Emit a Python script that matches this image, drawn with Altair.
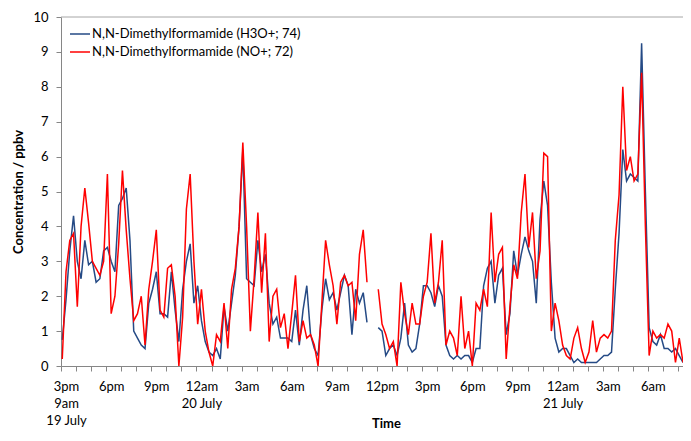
import altair as alt
import pandas as pd

SERIES = ["N,N-Dimethylformamide (H3O+; 74)", "N,N-Dimethylformamide (NO+; 72)"]
COLORS = ["#254A85", "#FF0000"]

# time axis: hours relative to 00:00 on 20 July, one reading every 15 minutes
START_H = -9.25   # 14:45 on 19 July
STEP_H = 0.25

# concentrations (ppbv), four readings per row (one hour)
H3O = [
    0.75, 1.9, 3.3, 4.3,
    3.0, 2.5, 3.6, 2.9,
    3.0, 2.4, 2.5, 3.3,
    3.4, 3.0, 2.7, 4.6,
    4.8, 5.1, 3.6, 1.0,
    0.8, 0.6, 0.5, 1.8,
    2.2, 2.7, 1.5, 1.5,
    1.4, 2.7, 1.6, 0.7,
    2.2, 3.0, 3.5, 1.8,
    2.3, 1.3, 0.7, 0.4,
    0.3, 0.5, 0.2, 1.7,
    1.0, 1.8, 2.6, 4.0,
    6.2, 2.5, 2.4, 2.3,
    3.6, 2.7, 3.2, 1.8,
    1.2, 1.4, 0.8, 0.8,
    0.8, 0.7, 1.6, 0.6,
    1.6, 2.3, 0.9, 0.5,
    0.3, 1.6, 2.5, 1.9,
    2.1, 1.6, 2.1, 2.6,
    2.3, 0.9, 2.2, 1.8,
    2.1, 1.25, None, None,
    1.1, 1.0, 0.3, 0.5,
    0.6, 0.3, 0.8, 1.8,
    0.6, 0.4, 0.5, 1.2,
    2.3, 2.3, 2.1, 1.7,
    2.3, 2.0, 0.6, 0.3,
    0.2, 0.3, 0.2, 0.3,
    0.3, 0.1, 0.5, 0.5,
    2.3, 2.8, 3.0, 1.8,
    2.6, 2.8, 0.9, 1.5,
    3.3, 2.6, 3.2, 3.7,
    3.3, 3.0, 1.8, 4.2,
    5.3, 4.6, 2.4, 0.8,
    0.4, 0.5, 0.5, 0.3,
    0.1, 0.2, 0.1, 0.1,
    0.1, 0.1, 0.1, 0.2,
    0.3, 0.3, 0.4, 2.2,
    3.8, 6.2, 5.3, 5.5,
    5.4, 5.3, 9.25, 5.0,
    1.1, 0.7, 0.6, 0.9,
    0.5, 0.5, 0.4, 0.5,
    0.3, 0.1,
]

NO = [
    0.2, 2.7, 3.6, 3.8,
    1.7, 4.0, 5.1, 4.1,
    3.0, 2.8, 2.6, 3.0,
    5.5, 1.5, 2.0, 3.5,
    5.6, 3.9, 2.5, 1.3,
    1.5, 2.0, 0.6, 2.2,
    3.0, 3.9, 1.6, 1.4,
    2.8, 2.9, 2.0, 0.0,
    1.4, 4.5, 5.5, 3.0,
    1.2, 2.2, 1.0, 0.4,
    0.0, 0.9, 0.7, 1.8,
    0.5, 2.2, 2.8, 4.0,
    6.4, 4.0, 1.0, 2.5,
    4.4, 2.1, 3.8, 0.7,
    2.0, 2.2, 1.1, 1.5,
    0.5, 1.5, 2.6, 0.7,
    1.3, 0.8, 0.9, 0.6,
    0.0, 1.8, 3.6, 2.9,
    2.3, 1.2, 2.4, 2.6,
    2.3, 2.4, 1.3, 3.2,
    3.9, 2.4, None, None,
    2.2, 1.2, 0.9, 0.5,
    0.7, 0.0, 2.4, 1.5,
    0.9, 1.8, 1.2, 1.2,
    2.0, 2.4, 3.8, 1.8,
    2.4, 3.6, 0.6, 1.0,
    0.8, 0.3, 2.0, 0.5,
    1.0, 0.0, 1.8, 1.6,
    2.2, 1.7, 4.4, 2.4,
    3.2, 3.4, 0.2, 1.7,
    2.9, 2.5, 4.4, 5.5,
    3.4, 4.4, 2.5, 3.3,
    6.1, 6.0, 1.0, 1.8,
    1.3, 0.6, 0.3, 0.2,
    0.8, 1.1, 0.5, 0.1,
    0.4, 1.3, 0.4, 0.8,
    0.9, 0.8, 1.0, 3.6,
    4.9, 8.0, 5.6, 6.0,
    5.3, 5.5, 8.4, 4.0,
    0.3, 1.0, 0.8, 0.9,
    0.8, 1.2, 1.0, 0.1,
    0.8, 0.1,
]

X_DOMAIN = [-9 - 1 / 3, 32.0]
TICK_HOURS = list(range(-9, 33))
Y_TICKS = list(range(0, 11))
LABEL_HOURS = [-9, -6, -3, 0, 3, 6, 9, 12, 15, 18, 21, 24, 27, 30]
NB = "\u00a0"
LABEL_TEXT = [
    ["3pm", "9am", "19 July"], ["6pm"], ["9pm"], ["12am", NB, "20 July"],
    ["3am"], ["6am"], ["9am"], ["12pm"], ["3pm"], ["6pm"], ["9pm"],
    ["12am", NB, "21 July"], ["3am"], ["6am"],
]

rows = []
for name, vals in zip(SERIES, [H3O, NO]):
    seg = 0
    for i, v in enumerate(vals):
        if v is None:
            seg += 1
            continue
        rows.append({"h": START_H + i * STEP_H, "v": v, "series": name,
                     "seg": f"{name}-{seg}"})
df = pd.DataFrame(rows)

label_expr = "".join(
    "datum.value == {} ? [{}] : ".format(h, ",".join("'" + t + "'" for t in txt))
    for h, txt in zip(LABEL_HOURS, LABEL_TEXT)
) + "''"

FONT = "Lato"
AX = "#868686"

x_axis = alt.Axis(
    values=TICK_HOURS, labelExpr=label_expr, tickOffset=-5, labelOffset=5,
    tickSize=5, tickColor=AX, domainColor=AX, grid=False,
    labelFont=FONT, labelFontSize=13, labelColor="black", labelPadding=9,
    labelLineHeight=17, labelFlush=False, labelOverlap=False, labelBound=False,
    labelAlign="center", labelBaseline="top",
    title="Time", titleFont=FONT, titleFontSize=13, titleFontWeight="bold",
    titleColor="black", titleX=325, titleY=61, titleAlign="center",
    titleBaseline="alphabetic",
)
y_axis = alt.Axis(
    values=Y_TICKS, tickCount=11, tickSize=5, tickColor=AX, domainColor=AX, grid=False,
    labelFont=FONT, labelFontSize=13, labelColor="black", labelPadding=8,
    labelOverlap=False, labelFlush=False, labelBound=False,
    title="Concentration / ppbv", titleFont=FONT, titleFontSize=13,
    titleFontWeight="bold", titleColor="black", titleX=-43, titleY=174.5,
    titleAngle=270, titleAlign="center", titleBaseline="middle",
)

lines = alt.Chart(df).mark_line(strokeWidth=1.5).encode(
    x=alt.X("h:Q", scale=alt.Scale(domain=X_DOMAIN, nice=False, zero=False), axis=x_axis),
    y=alt.Y("v:Q", scale=alt.Scale(domain=[0, 10], nice=False), axis=y_axis),
    color=alt.Color(
        "series:N", scale=alt.Scale(domain=SERIES, range=COLORS),
        legend=alt.Legend(
            orient="none", legendX=8, legendY=6, title=None, padding=0,
            symbolType="stroke", symbolSize=400, symbolStrokeWidth=1.5,
            labelFont=FONT, labelFontSize=13, labelColor="black", labelLimit=0,
            rowPadding=0, labelOffset=1,
        ),
    ),
    detail="seg:N",
)

top_line = alt.Chart(pd.DataFrame({"v": [10]})).mark_rule(
    color="#A6A6A6", strokeWidth=1
).encode(y=alt.Y("v:Q", axis=y_axis))

chart = alt.layer(lines, top_line).properties(
    width=622, height=349,
    autosize=alt.AutoSizeParams(type="none"),
    padding={"left": 53, "top": 9, "right": 0, "bottom": 65},
).configure_view(stroke=None)

chart.save("out.html", embed_options={"renderer": "svg", "actions": False})
